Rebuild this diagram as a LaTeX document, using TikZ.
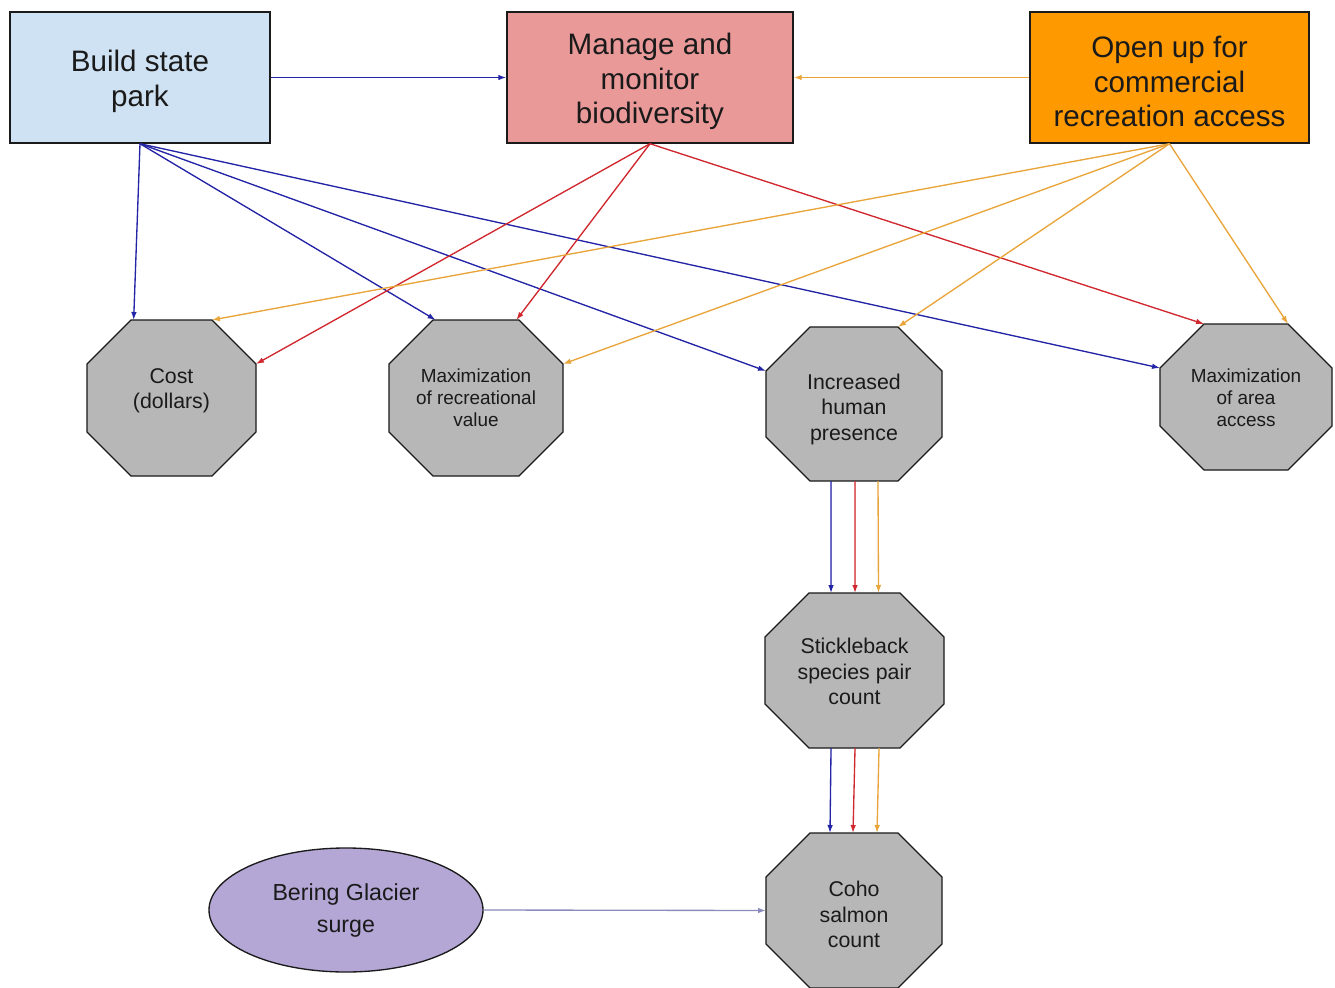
\documentclass[tikz,border=0pt]{standalone}
\usepackage{fontspec}
\setmainfont{Liberation Sans}
\usetikzlibrary{arrows.meta,calc,shapes.geometric}
\definecolor{boxblue}{HTML}{CFE2F3}
\definecolor{boxred}{HTML}{EA9999}
\definecolor{boxorange}{HTML}{FF9900}
\definecolor{octgray}{HTML}{B7B7B7}
\definecolor{ellpurple}{HTML}{B4A7D6}
\definecolor{txt}{HTML}{1A1A1A}
\definecolor{ablue}{HTML}{2424A6}
\definecolor{ared}{HTML}{D0282E}
\definecolor{aorange}{HTML}{E9A53A}
\definecolor{apurple}{HTML}{8C8CBC}
\newcommand\octnode[8]{%
  \draw[octshape] ({#2-#4+#6},{#3-#5}) coordinate (#1-tl) -- ({#2+#4-#6},{#3-#5}) coordinate (#1-tr)
    -- ({#2+#4},{#3-#5+#6}) coordinate (#1-rt) -- ({#2+#4},{#3+#5-#6}) coordinate (#1-rb)
    -- ({#2+#4-#6},{#3+#5}) coordinate (#1-br) -- ({#2-#4+#6},{#3+#5}) coordinate (#1-bl)
    -- ({#2-#4},{#3+#5-#6}) coordinate (#1-lb) -- ({#2-#4},{#3-#5+#6}) coordinate (#1-lt) -- cycle;
  \coordinate (#1-top) at (#2,{#3-#5});
  \coordinate (#1-bot) at (#2,{#3+#5});
  \coordinate (#1-left) at ({#2-#4},#3);
  \node[#7] (#1) at (#2,#3) {#8};
}
\begin{document}
\begin{tikzpicture}[x=0.75pt,y=-0.75pt,
  topbox/.style={draw=txt, line width=1.1pt,
    minimum width=#1, minimum height=98.25pt, inner sep=0pt},
  boxlabel/.style={align=center, text=txt, inner sep=0pt, yshift=-3pt,
    font=\fontsize{22.2}{26}\selectfont},
  octshape/.style={draw=txt, line width=1pt, fill=octgray, line join=miter},
  octtext/.style={align=center, text=txt, inner sep=0pt, font=\fontsize{16}{19.1}\selectfont},
  octsmall/.style={align=center, text=txt, inner sep=0pt, font=\fontsize{14.2}{16.5}\selectfont},
  arr/.style={-{Latex[length=6pt,width=4.2pt]}, line width=1pt},
  ab/.style={arr, draw=ablue, fill=ablue},
  ar/.style={arr, draw=ared, fill=ared},
  ao/.style={arr, draw=aorange, fill=aorange},
  ap/.style={arr, draw=apurple, fill=apurple}]
\useasboundingbox (0,0) rectangle (1335,988);
\fill[white] (0,0) rectangle (1335,988);

% top boxes
\node[topbox=195pt, fill=boxblue, label={[boxlabel]center:{Build state\\park}}] (build) at (140,77.5) {};
\node[topbox=214.5pt, fill=boxred, label={[boxlabel]center:{Manage and\\monitor\\biodiversity}}] (manage) at (650,77.5) {};
\node[topbox=209.25pt, fill=boxorange, label={[boxlabel]center:{Open up for\\commercial\\recreation access}}] (open) at (1169.5,77.5) {};

% octagons
\octnode{cost}{171.5}{398}{84.5}{78}{44}{octtext,yshift=5.25pt}{Cost\\(dollars)}
\octnode{rec}{476}{398}{87}{78}{44}{octsmall}{Maximization\\of recreational\\value}
\octnode{human}{854}{404}{88}{77}{44}{octtext,yshift=-4pt}{Increased\\human\\presence}
\octnode{area}{1246}{397}{86}{73}{44}{octsmall,yshift=-0.75pt}{Maximization\\of area\\access}
\octnode{stick}{854.5}{670.5}{89.5}{77.5}{44}{octtext,yshift=-0.75pt}{Stickleback\\species pair\\count}
\octnode{coho}{854}{910.5}{88}{77.5}{44}{octtext,yshift=-3pt}{Coho\\salmon\\count}

% ellipse
\node[ellipse, draw=txt, line width=1pt, fill=ellpurple, minimum width=205.5pt, minimum height=93pt,
  align=center, text=txt, inner sep=0pt, font=\fontsize{17.4}{24}\selectfont] (bering) at (346,910) {Bering Glacier\\surge};

% connectors between top boxes
\draw[ab] (build.east) -- (manage.west);
\draw[ao] (open.west) -- (manage.east);

% from Build state park
\draw[ab] (build.south) -- ([xshift=2pt]cost-tl);
\draw[ab] (build.south) -- ([xshift=2pt]rec-tl);
\draw[ab] (build.south) -- (human-lt);
\draw[ab] (build.south) -- (area-lt);

% from Manage and monitor
\draw[ar] (manage.south) -- (cost-rt);
\draw[ar] (manage.south) -- ([xshift=-2pt]rec-tr);
\draw[ar] (manage.south) -- (area-tl);

% from Open up
\draw[ao] (open.south) -- (cost-tr);
\draw[ao] (open.south) -- (rec-rt);
\draw[ao] (open.south) -- (human-tr);
\draw[ao] (open.south) -- (area-tr);

% vertical triples
\draw[ab] ([xshift=-17.25pt]human-bot) -- ([xshift=-17.6pt]stick-top);
\draw[ar] ([xshift=0.75pt]human-bot) -- ([xshift=0.4pt]stick-top);
\draw[ao] ([xshift=18pt]human-bot) -- ([xshift=18pt]stick-top);
\draw[ab] ([xshift=-17.6pt]stick-bot) -- ([xshift=-18pt]coho-top);
\draw[ar] ([xshift=0.4pt]stick-bot) -- ([xshift=-0.75pt]coho-top);
\draw[ao] ([xshift=18.4pt]stick-bot) -- ([xshift=17.25pt]coho-top);

% Bering
\draw[ap] (bering.east) -- (coho-left);
\end{tikzpicture}
\end{document}
